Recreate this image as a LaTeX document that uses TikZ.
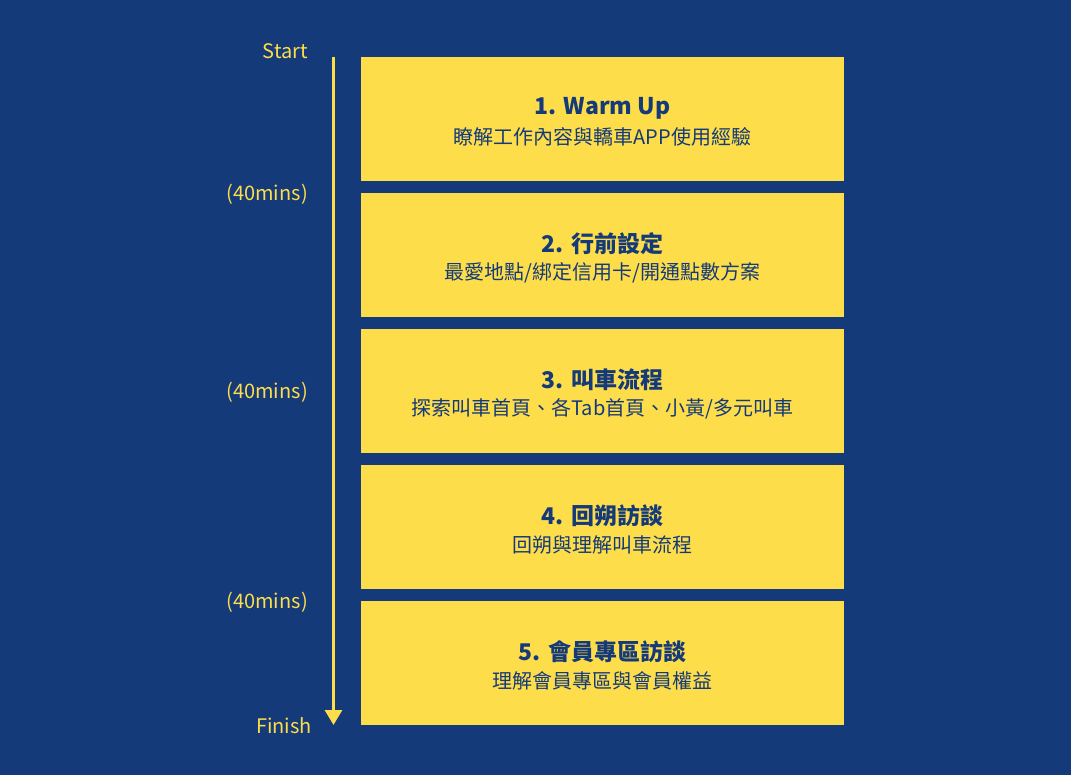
\documentclass[tikz,border=0pt]{standalone}
\usepackage{fontspec}
\usetikzlibrary{arrows.meta}
\setmainfont{Noto Sans CJK TC}
\definecolor{bgblue}{RGB}{21,58,122}
\definecolor{boxyellow}{RGB}{253,221,74}
\tikzset{
  stagebox/.style={fill=boxyellow, draw=none, minimum width=483pt, minimum height=124pt, anchor=north west, inner sep=0pt},
  titletext/.style={text=bgblue, font=\fontsize{23}{27}\selectfont\bfseries, anchor=center, inner sep=0pt},
  subtext/.style={text=bgblue, font=\fontsize{20}{24}\selectfont, anchor=center, inner sep=0pt},
  sidelabel/.style={text=boxyellow, font=\fontsize{20}{24}\selectfont, anchor=east, inner sep=0pt},
}
\begin{document}
\begin{tikzpicture}[x=1pt,y=-1pt]
\fill[bgblue] (0,0) rectangle (1071,775);
\useasboundingbox (0,0) rectangle (1071,775);
% boxes
\node[stagebox] (b1) at (361,57) {};
\node[stagebox] (b2) at (361,193) {};
\node[stagebox] (b3) at (361,329) {};
\node[stagebox] (b4) at (361,465) {};
\node[stagebox] (b5) at (361,601) {};
% titles
\node[titletext] (t1) at (602.5,108) {1. Warm Up};
\node[subtext] (s1) at (602.5,137) {瞭解工作內容與轎車APP使用經驗};
\node[titletext] (t2) at (602.5,244) {2. 行前設定};
\node[subtext] (s2) at (602.5,273) {最愛地點/綁定信用卡/開通點數方案};
\node[titletext] (t3) at (602.5,380) {3. 叫車流程};
\node[subtext] (s3) at (602.5,409) {探索叫車首頁、各Tab首頁、小黃/多元叫車};
\node[titletext] (t4) at (602.5,516) {4. 回朔訪談};
\node[subtext] (s4) at (602.5,545) {回朔與理解叫車流程};
\node[titletext] (t5) at (602.5,652) {5. 會員專區訪談};
\node[subtext] (s5) at (602.5,681) {理解會員專區與會員權益};
% timeline
\coordinate (ls) at (333.5,57);
\coordinate (le) at (333.5,725);
\draw[boxyellow, line width=3pt, -{Triangle[width=17pt,length=15pt]}] (ls) -- (le);
% labels
\node[sidelabel] (start) at (308,51) {Start};
\node[sidelabel] (m1) at (308,194) {(40mins)};
\node[sidelabel] (m2) at (308,392) {(40mins)};
\node[sidelabel] (m3) at (308,602) {(40mins)};
\node[sidelabel] (fin) at (312,726) {Finish};
\end{tikzpicture}
\end{document}
